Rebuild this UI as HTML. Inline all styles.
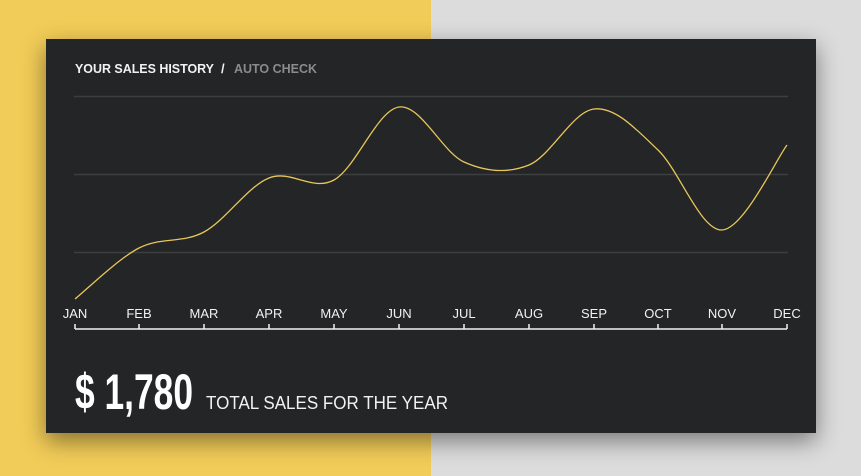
<!DOCTYPE html>
<html><head><meta charset="utf-8"><style>
html,body{margin:0;padding:0;}
body{width:861px;height:476px;position:relative;overflow:hidden;background:#dcdcdc;font-family:"Liberation Sans",sans-serif;}
.yel{position:absolute;left:0;top:0;width:431px;height:476px;background:#f2cc58;}
.card{position:absolute;left:46px;top:39px;width:770px;height:394px;background:#232527;box-shadow:0 8px 22px rgba(0,0,0,0.45);}
svg{position:absolute;left:0;top:0;}
</style></head><body>
<div class="yel"></div>
<div class="card"></div>
<svg width="861" height="476" viewBox="0 0 861 476">
<text x="75" y="73" font-family="Liberation Sans" font-weight="bold" font-size="13" fill="#f2f2f2" textLength="139" lengthAdjust="spacingAndGlyphs">YOUR SALES HISTORY</text>
<text x="221" y="73" font-family="Liberation Sans" font-weight="bold" font-size="13" fill="#f2f2f2">/</text>
<text x="234" y="73" font-family="Liberation Sans" font-weight="bold" font-size="13" fill="#8a8b8c" textLength="83" lengthAdjust="spacingAndGlyphs">AUTO CHECK</text>
<g stroke="#3c3e40" stroke-width="1.5">
<line x1="74" y1="96.5" x2="788" y2="96.5"/>
<line x1="74" y1="174.5" x2="788" y2="174.5"/>
<line x1="74" y1="252.5" x2="788" y2="252.5"/>
</g>
<path d="M75,299 C85.7,290.5 117.5,259.2 139,248 C160.5,236.8 182.3,243.7 204,232 C225.7,220.3 247.3,186.7 269,178 C290.7,169.3 312.3,191.8 334,180 C355.7,168.2 377.3,110 399,107 C420.7,104 442.3,152.3 464,162 C485.7,171.7 507.3,173.8 529,165 C550.7,156.2 572.5,111.5 594,109 C615.5,106.5 636.7,129.8 658,150 C679.3,170.2 700.5,230.8 722,230 C743.5,229.2 776.2,159.2 787,145" fill="none" stroke="#e9c65a" stroke-width="1.3"/>
<g font-family="Liberation Sans" font-size="13" fill="#f2f2f2" text-anchor="middle">
<text x="75" y="318">JAN</text><text x="139" y="318">FEB</text><text x="204" y="318">MAR</text><text x="269" y="318">APR</text><text x="334" y="318">MAY</text><text x="399" y="318">JUN</text><text x="464" y="318">JUL</text><text x="529" y="318">AUG</text><text x="594" y="318">SEP</text><text x="658" y="318">OCT</text><text x="722" y="318">NOV</text><text x="787" y="318">DEC</text>
</g>
<g stroke="#f2f2f2" stroke-width="1.5">
<line x1="75" y1="329" x2="787" y2="329"/>
<line x1="75" y1="324" x2="75" y2="329"/><line x1="139" y1="324" x2="139" y2="329"/><line x1="204" y1="324" x2="204" y2="329"/><line x1="269" y1="324" x2="269" y2="329"/><line x1="334" y1="324" x2="334" y2="329"/><line x1="399" y1="324" x2="399" y2="329"/><line x1="464" y1="324" x2="464" y2="329"/><line x1="529" y1="324" x2="529" y2="329"/><line x1="594" y1="324" x2="594" y2="329"/><line x1="658" y1="324" x2="658" y2="329"/><line x1="722" y1="324" x2="722" y2="329"/><line x1="787" y1="324" x2="787" y2="329"/>
</g>
<text x="75" y="409" font-family="Liberation Sans" font-weight="bold" font-size="50" fill="#ffffff" textLength="118" lengthAdjust="spacingAndGlyphs">$ 1,780</text>
<text x="206" y="409" font-family="Liberation Sans" font-size="18" fill="#f2f2f2" textLength="242" lengthAdjust="spacingAndGlyphs">TOTAL SALES FOR THE YEAR</text>
</svg>
</body></html>
